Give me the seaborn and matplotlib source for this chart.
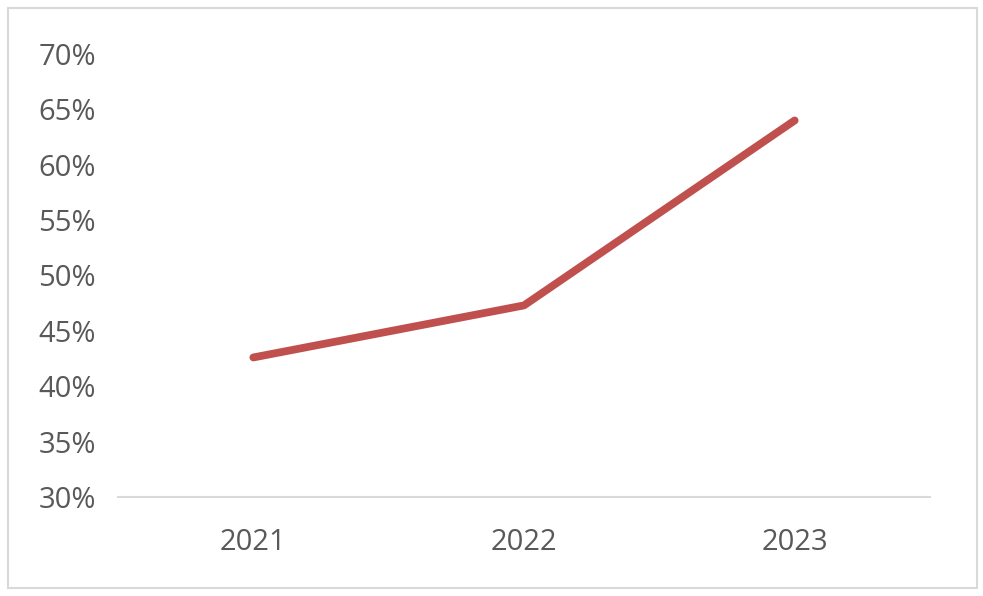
from matplotlib import pyplot as plt
from matplotlib.patches import Rectangle
import seaborn as sns
import pandas as pd

years = ['2021', '2022', '2023']
share = [0.426, 0.473, 0.640]
yticks = [0.30, 0.35, 0.40, 0.45, 0.50, 0.55, 0.60, 0.65, 0.70]

df = pd.DataFrame({'year': years, 'share': share})

sns.set_style('white')
plt.rcParams['font.family'] = ['Open Sans', 'DejaVu Sans']

fig = plt.figure(figsize=(9.83, 5.96), dpi=100)
ax = fig.add_axes([118 / 983, 1 - 497 / 596, (930 - 118) / 983, (497 - 54) / 596])

sns.lineplot(data=df, x='year', y='share', ax=ax, color='#C0504D',
             linewidth=5.6, solid_capstyle='round', sort=False)

ax.set_xlim(-0.5, 2.5)
ax.set_ylim(0.30, 0.70)
ax.set_yticks(yticks)
ax.set_yticklabels([f'{int(round(t * 100))}%' for t in yticks])
ax.set_xlabel('')
ax.set_ylabel('')
ax.tick_params(axis='both', length=0, labelsize=21, colors='#595959')
ax.tick_params(axis='y', pad=16)
ax.tick_params(axis='x', pad=22)
for s in ['top', 'right', 'left']:
    ax.spines[s].set_visible(False)
ax.spines['bottom'].set_color('#D9D9D9')
ax.spines['bottom'].set_linewidth(1.5)

fig.patches.append(Rectangle((8 / 983, 8 / 596), 969 / 983, 580 / 596,
                             transform=fig.transFigure, fill=False,
                             edgecolor='#D9D9D9', linewidth=1.5))

fig.savefig('out.png', dpi=100)
